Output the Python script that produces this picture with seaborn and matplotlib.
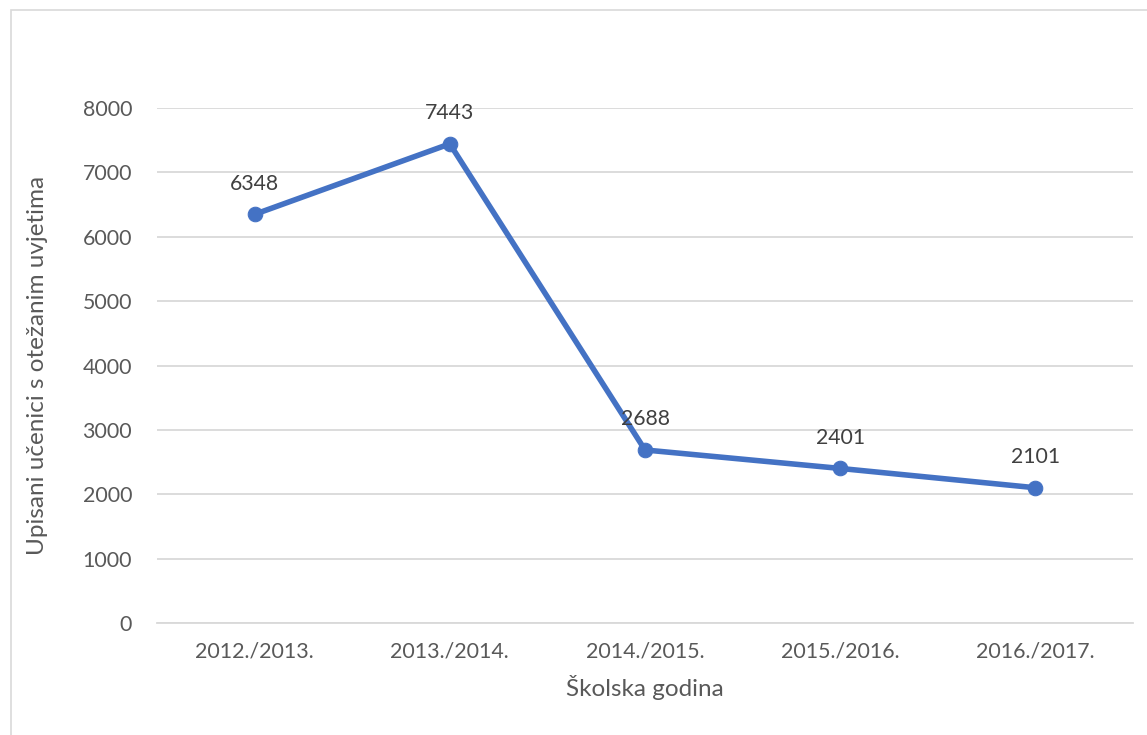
import matplotlib.pyplot as plt
import seaborn as sns
import pandas as pd
from matplotlib.patches import Rectangle

years = ['2012./2013.', '2013./2014.', '2014./2015.', '2015./2016.', '2016./2017.']
students = [6348, 7443, 2688, 2401, 2101]
y_ticks = [0, 1000, 2000, 3000, 4000, 5000, 6000, 7000, 8000]

sns.set_style('white')
plt.rcParams['font.family'] = ['Lato', 'DejaVu Sans']
text_col = '#595959'
grid_col = '#d9d9d9'
line_col = '#4472C4'

df = pd.DataFrame({'godina': years, 'ucenici': students})
df['pos'] = range(len(df))

fig = plt.figure(figsize=(11.47, 7.35), dpi=100)
ax = fig.add_axes([157 / 1147, 1 - 623 / 735, (1133 - 157) / 1147, (623 - 108) / 735])

sns.lineplot(data=df, x='pos', y='ucenici', ax=ax, color=line_col, linewidth=4,
             marker='o', markersize=10.5, markeredgecolor=line_col, zorder=3)

for x, v in zip(df['pos'], df['ucenici']):
    ax.annotate(str(v), (x, v), xytext=(0, 22), textcoords='offset points',
                ha='center', va='center', fontsize=15.3, color='#404040')

ax.set_xlim(-0.5, len(years) - 0.5)
ax.set_ylim(0, 8000)
ax.set_yticks(y_ticks)
ax.set_yticklabels([str(t) for t in y_ticks])
ax.set_xticks(range(len(years)))
ax.set_xticklabels(years)
ax.set_xticks([i - 0.5 for i in range(len(years) + 1)], minor=True)
ax.yaxis.grid(True, color=grid_col, linewidth=1.3)
ax.set_axisbelow(True)
for s in ['top', 'right', 'left']:
    ax.spines[s].set_visible(False)
ax.spines['bottom'].set_color(grid_col)
ax.spines['bottom'].set_linewidth(1.3)
ax.tick_params(axis='x', which='major', length=0, pad=13, labelsize=15.4, labelcolor=text_col)
ax.tick_params(axis='x', which='minor', length=6, width=1.3, color=grid_col)
ax.tick_params(axis='y', length=0, pad=18, labelsize=15.4, labelcolor=text_col)

ax.set_xlabel('Školska godina', fontsize=17.5, color=text_col, labelpad=10)
ax.set_ylabel('Upisani učenici s otežanim uvjetima', fontsize=17.5, color=text_col, labelpad=25)

fig.patches.append(Rectangle((11 / 1147, -0.05), 1.1, 1 - 10 / 735 + 0.05,
                             transform=fig.transFigure, fill=False,
                             edgecolor='#d9d9d9', linewidth=1.2))

fig.savefig('out.png', dpi=100)
